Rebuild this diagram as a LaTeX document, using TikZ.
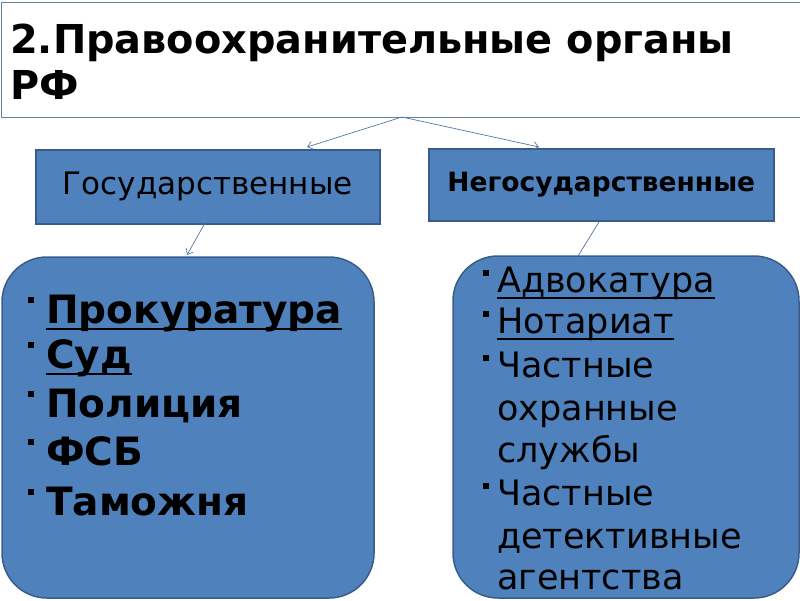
\documentclass[tikz,border=0pt]{standalone}
\usepackage{fontspec}
\setmainfont{DejaVu Sans}
\usetikzlibrary{arrows.meta}
\definecolor{boxfill}{HTML}{4F81BD}
\definecolor{boxline}{HTML}{385D8A}
\definecolor{conn}{HTML}{5577A0}
\definecolor{titleline}{HTML}{5F7FA3}
\begin{document}
\begin{tikzpicture}[x=1pt,y=-1pt,
  headbox/.style={draw=boxline,fill=boxfill,line width=1.5pt,inner sep=0pt,anchor=north west},
  roundbox/.style={draw=boxline,fill=boxfill,line width=1.5pt,rounded corners=45pt},
  conline/.style={draw=conn,line width=0.7pt},
  conarrow/.style={conline,-{Straight Barb[length=5pt,width=8pt,line width=0.7pt]}},
  itemtext/.style={anchor=base west,inner sep=0pt,text=black},
  bulletsq/.style={fill=black,inner sep=0pt,minimum size=6pt}
]
\useasboundingbox (0,0) rectangle (800,600);
% title
\draw[draw=titleline,line width=1pt] (1,2) -- (801,2) (1,2) -- (1,117) -- (801,117);
\node[itemtext] (t1) at (10,53) {\fontsize{39.8}{46}\selectfont\bfseries 2.Правоохранительные органы};
\node[itemtext] (t2) at (10,99) {\fontsize{39.8}{46}\selectfont\bfseries РФ};
\coordinate (top) at (402,117);
% header boxes
\node[headbox,minimum width=344pt,minimum height=74pt] (gos) at (35,149) {};
\node[font={\fontsize{31}{36}\selectfont}] at (gos.center) {Государственные};
\node[headbox,minimum width=345pt,minimum height=72pt] (neg) at (428,148) {};
\node[font={\fontsize{26.5}{30}\selectfont\bfseries}] at (neg.center) {Негосударственные};
\coordinate (ga) at (307,147);
\coordinate (na) at (539,147);
\draw[conarrow] (top) -- (ga);
\draw[conarrow] (top) -- (na);
% rounded boxes
\draw[roundbox] (2,257) rectangle (374,598);
\draw[roundbox] (453,256) rectangle (799,598);
\coordinate (gs) at (205,223);
\coordinate (ge) at (187,255);
\draw[conarrow] (gs) -- (ge);
\coordinate (ns) at (599,222);
\coordinate (ne) at (578,256);
\draw[conline] (ns) -- (ne);
% left list
\foreach \n/\y/\t in {l1/323/Прокуратура,l2/368/Суд,l3/417/Полиция,l4/465/ФСБ,l5/515/Таможня}{
  \node[itemtext] (\n) at (46,\y) {\fontsize{39}{46}\selectfont\bfseries \t};
  \node[bulletsq] at (31,\y-23) {};
}
\draw[line width=2pt] ([yshift=-6pt]l1.base west) -- ([yshift=-6pt]l1.base east);
\draw[line width=2pt] ([yshift=-6pt]l2.base west) -- ([yshift=-6pt]l2.base east);
% right list
\foreach \n/\y/\t in {r1/292/Адвокатура,r2/333/Нотариат,r3/377/Частные,r4/420/охранные,r5/462/службы,r6/505/Частные,r7/548/детективные,r8/589/агентства}{
  \node[itemtext] (\n) at (497,\y) {\fontsize{35}{42}\selectfont \t};
}
\foreach \y in {292,333,377,505}{
  \node[bulletsq,minimum size=6.5pt] at (486,\y-19) {};
}
\draw[line width=1.6pt] ([yshift=-6pt]r1.base west) -- ([yshift=-6pt]r1.base east);
\draw[line width=1.6pt] ([yshift=-6pt]r2.base west) -- ([yshift=-6pt]r2.base east);
\end{tikzpicture}
\end{document}
